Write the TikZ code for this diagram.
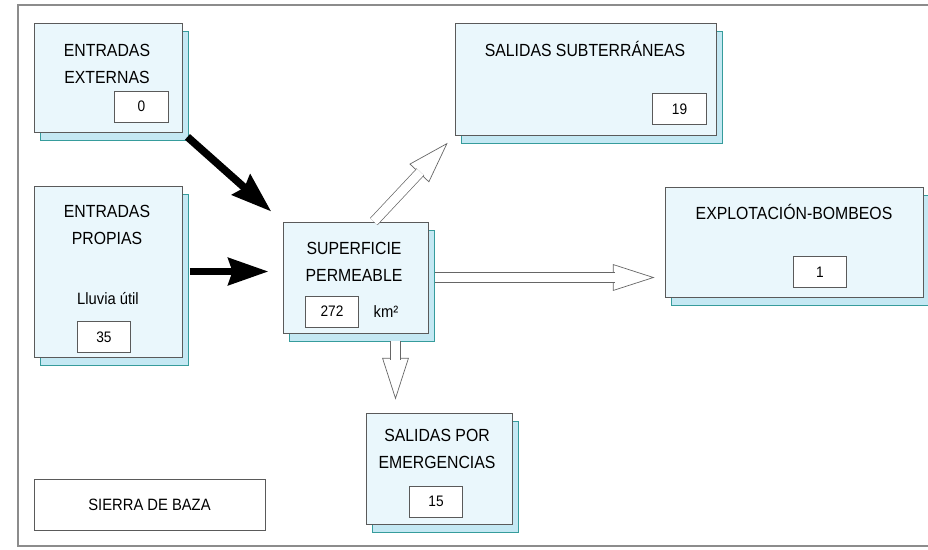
\documentclass[tikz,border=0pt]{standalone}
\usepackage{fontspec}
\setmainfont{Liberation Sans}[FakeStretch=0.9]
\usetikzlibrary{arrows.meta,shadows}
\definecolor{sheet}{RGB}{234,247,252}
\definecolor{sheetback}{RGB}{196,232,243}
\definecolor{rim}{RGB}{90,90,90}

\begin{document}
\begin{tikzpicture}[x=0.03cm, y=-0.03cm,
    budget/.style ={rectangle, draw=rim, line width=0.8pt, fill=sheet,
      copy shadow={shadow xshift=0.2cm, shadow yshift=-0.24cm, fill=sheetback, draw=rim!60!cyan}},
    amount/.style ={rectangle, draw=rim, fill=white, line width=0.7pt,
      minimum width=1.6cm, minimum height=0.93cm, font=\fontsize{13}{13}\selectfont},
    title/.style ={align=center, font=\fontsize{15}{23}\selectfont, text=black},
    inflow/.style ={line width=6.5pt, -{Stealth[length=1.2cm, width=0.8cm, inset=0.12cm]}},
    outflow/.style ={draw=black!60, line width=0.6pt,
      -{Triangle[open, fill=white, length=1.25cm, width=0.8cm]}, shorten >=#1,
      postaction={draw=black!60, -, double=white, double distance=0.27cm, shorten >=#1+1.2cm}}]
   \useasboundingbox (0,0) rectangle (928,549);
   \draw[black!45, line width=0.9pt] (928,5) -- (18,5) -- (18,546) -- (928,546);

   \node[budget, minimum width=4.44cm, minimum height=3.27cm] (extin)  at (108,77.5)  {};
   \node[budget, minimum width=4.44cm, minimum height=5.13cm] (ownin)  at (108,271.5) {};
   \node[budget, minimum width=4.35cm, minimum height=3.33cm] (surf)   at (355.5,277.5) {};
   \node[budget, minimum width=7.83cm, minimum height=3.36cm] (subout) at (585.5,79)  {};
   \node[budget, minimum width=7.74cm, minimum height=3.3cm]  (pump)   at (794,242)   {};
   \node[budget, minimum width=4.38cm, minimum height=3.33cm] (emerg)  at (439,468.5) {};
   \node[draw=rim, line width=0.8pt, fill=white, minimum width=6.93cm, minimum height=1.53cm,
     font=\fontsize{14}{14}\selectfont] (sierra) at (149.5,504.5) {SIERRA DE BAZA};

   \node[title] (extinname)  at (107,64)    {ENTRADAS\\EXTERNAS};
   \node[title] (owninname)  at (107,225)   {ENTRADAS\\PROPIAS};
   \node[title] (surfname)   at (354,261.5) {SUPERFICIE\\PERMEABLE};
   \node[title] (suboutname) at (585,49)    {SALIDAS SUBTERRÁNEAS};
   \node[title] (pumpname)   at (794,212)   {EXPLOTACIÓN-BOMBEOS};
   \node[title] (emergname)  at (437,448.5) {SALIDAS POR\\EMERGENCIAS};
   \node[font=\fontsize{14}{14}\selectfont] (rain) at (108,299) {Lluvia útil};
   \node[font=\fontsize{14}{14}\selectfont] (unit) at (386,312) {km²};

   \node[amount] (extinval)  at (141.5,106.5) {0};
   \node[amount] (owninval)  at (104,337)     {35};
   \node[amount] (surfval)   at (332,311.5)   {272};
   \node[amount] (suboutval) at (679.5,109)   {19};
   \node[amount] (pumpval)   at (820,272)     {1};
   \node[amount] (emergval)  at (436,501.5)   {15};

   \draw[inflow, shorten <=0.2cm, shorten >=0.45cm] (extin.south east) to (surf.north west);
   \draw[inflow, shorten <=0.22cm, shorten >=0.42cm] (ownin.east) to (ownin.east -| surf.west);
   \draw[outflow=0.3cm] ([xshift=0.55cm]surf.north) to (subout.south west);
   \draw[outflow=0.3cm, shorten <=0.21cm] (surf.east) to (surf.east -| pump.west);
   \draw[outflow=0.39cm, shorten <=0.24cm] ([xshift=1.2cm]surf.south) to ([xshift=1.2cm]surf.south |- emerg.north);
 \end{tikzpicture}
\end{document}
